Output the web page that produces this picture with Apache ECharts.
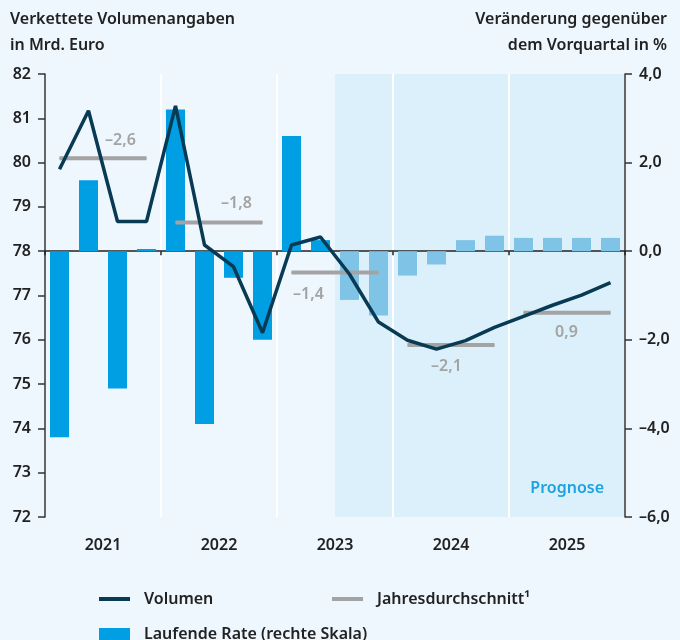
<!DOCTYPE html>
<html>
<head>
<meta charset="utf-8">
<script src="https://cdn.jsdelivr.net/npm/echarts@6/dist/echarts.min.js"></script>
<style>
html,body{margin:0;padding:0;background:#eef6fe;}
#chart{width:680px;height:640px;}
</style>
</head>
<body>
<div id="chart"></div>
<script>
// ---- data ----
const quarters = ['2021 Q1','2021 Q2','2021 Q3','2021 Q4','2022 Q1','2022 Q2','2022 Q3','2022 Q4','2023 Q1','2023 Q2','2023 Q3','2023 Q4','2024 Q1','2024 Q2','2024 Q3','2024 Q4','2025 Q1','2025 Q2','2025 Q3','2025 Q4'];
const years = ['2021','2022','2023','2024','2025'];
const volume = [79.85, 81.17, 78.67, 78.67, 81.28, 78.14, 77.65, 76.16, 78.14, 78.32, 77.48, 76.40, 75.99, 75.79, 75.98, 76.28, 76.53, 76.78, 77.01, 77.29];
const rate = [-4.2, 1.6, -3.1, 0.05, 3.2, -3.9, -0.6, -2.0, 2.6, 0.25, -1.1, -1.45, -0.55, -0.3, 0.25, 0.35, 0.3, 0.3, 0.3, 0.3];
const yearAvgLevel = [80.1, 78.65, 77.52, 75.88, 76.61];
const yearGrowth = [-2.6, -1.8, -1.4, -2.1, 0.9];
const forecastStart = 10; // first forecast quarter index
const leftTicks = {min: 72, max: 82, interval: 1};
const rightTicks = {min: -6, max: 4, interval: 2};
const leftTitle = 'Verkettete Volumenangaben\nin Mrd. Euro';
const rightTitle = 'Ver\u00e4nderung gegen\u00fcber\ndem Vorquartal in %';

// ---- styling ----
const FONT = 'Noto Sans';
const TXT = '#222222';
const BAR = '#009fe3';
const BAR_FC = '#7fc3e6';
const LINE = '#083a54';
const GRAY = '#a3a3a3';

function fmtDe(v, d) {
  const s = Math.abs(v).toFixed(d).replace('.', ',');
  return (v < 0 ? '\u2013' : '') + s;
}

// label placement per year: [quarter-in-year index, position, offsetX, offsetY]
const avgLabelPos = [
  [2, 'top', 3, -4],
  [2, 'top', 3, -5],
  [0, 'bottom', 17, 8],
  [1, 'bottom', 10, 8],
  [1, 'bottom', 14, 6]
];

const avgSeries = years.map((y, i) => {
  const data = quarters.map((q, k) => {
    if (Math.floor(k / 4) !== i) return '-';
    const lp = avgLabelPos[i];
    if (k % 4 === lp[0]) {
      return {
        value: yearAvgLevel[i],
        label: {
          show: true, position: lp[1], offset: [lp[2], lp[3]],
          formatter: fmtDe(yearGrowth[i], 1),
          color: GRAY, fontFamily: FONT, fontSize: 16, fontWeight: 600
        }
      };
    }
    return yearAvgLevel[i];
  });
  return {
    name: 'Jahresdurchschnitt\u00b9', type: 'line', xAxisIndex: 0, yAxisIndex: 0,
    data: data, connectNulls: false, showSymbol: true, symbol: 'circle', symbolSize: 1,
    itemStyle: {color: GRAY}, lineStyle: {color: GRAY, width: 4},
    silent: true, emphasis: {disabled: true}, z: 3, animation: false
  };
});

const barData = rate.map((v, i) => ({
  value: v,
  itemStyle: {color: i >= forecastStart ? BAR_FC : BAR}
}));

const titleFont = '600 16px "' + FONT + '"';
const chart = echarts.init(document.getElementById('chart'), null, {renderer: 'canvas'});
const option = {
  backgroundColor: '#eef6fe',
  animation: false,
  textStyle: {fontFamily: FONT},
  graphic: [
    {type: 'text', x: 10, y: 6, z: 10, silent: true,
     style: {text: leftTitle, font: titleFont, fill: TXT, lineHeight: 26, align: 'left', verticalAlign: 'top'}},
    {type: 'text', x: 667, y: 6, z: 10, silent: true,
     style: {text: rightTitle, font: titleFont, fill: TXT, lineHeight: 26, align: 'right', verticalAlign: 'top'}}
  ],
  grid: {left: 45, right: 55, top: 74, bottom: 123, containLabel: false},
  legend: [
    {data: ['Volumen'], left: 94, top: 586, icon: 'rect', itemWidth: 31, itemHeight: 4, selectedMode: false,
     textStyle: {fontFamily: FONT, fontSize: 16, fontWeight: 600, color: TXT, padding: [0, 0, 0, 9]}},
    {data: ['Jahresdurchschnitt\u00b9'], left: 327, top: 586, icon: 'rect', itemWidth: 31, itemHeight: 4, selectedMode: false,
     textStyle: {fontFamily: FONT, fontSize: 16, fontWeight: 600, color: TXT, padding: [0, 0, 0, 9]}},
    {data: ['Laufende Rate (rechte Skala)'], left: 94, top: 621, icon: 'rect', itemWidth: 31, itemHeight: 12, selectedMode: false,
     textStyle: {fontFamily: FONT, fontSize: 16, fontWeight: 600, color: TXT, padding: [0, 0, 0, 9]}}
  ],
  xAxis: [
    {type: 'category', data: quarters, boundaryGap: true,
     axisLine: {show: true, onZero: true, onZeroAxisIndex: 1, lineStyle: {color: TXT, width: 1.5}},
     axisTick: {show: true, interval: 3, length: 4, lineStyle: {color: TXT, width: 1.5}},
     axisLabel: {show: false}, splitLine: {show: false}},
    {type: 'category', data: years, boundaryGap: true, position: 'bottom',
     axisLine: {show: false, onZero: false}, axisTick: {show: false},
     axisLabel: {margin: 20, fontFamily: FONT, fontSize: 16, fontWeight: 600, color: TXT},
     splitLine: {show: true, lineStyle: {color: '#ffffff', width: 2}}},
    {type: 'value', min: 0, max: quarters.length, show: false}
  ],
  yAxis: [
    {type: 'value', position: 'left', min: leftTicks.min, max: leftTicks.max, interval: leftTicks.interval,
     axisLine: {show: true, onZero: false, lineStyle: {color: '#333', width: 1.5}},
     axisTick: {show: true, length: 7, lineStyle: {color: '#333', width: 1.5}},
     axisLabel: {margin: 14, fontFamily: FONT, fontSize: 16, fontWeight: 600, color: TXT},
     splitLine: {show: false}},
    {type: 'value', position: 'right', min: rightTicks.min, max: rightTicks.max, interval: rightTicks.interval,
     axisLine: {show: true, onZero: false, lineStyle: {color: '#333', width: 1.5}},
     axisTick: {show: true, length: 7, lineStyle: {color: '#333', width: 1.5}},
     axisLabel: {margin: 14, fontFamily: FONT, fontSize: 16, fontWeight: 600, color: TXT,
       formatter: v => fmtDe(v, 1)},
     splitLine: {show: false}}
  ],
  series: [
    {name: 'forecast', type: 'line', xAxisIndex: 2, yAxisIndex: 0, data: [[forecastStart, leftTicks.min]],
     showSymbol: false, lineStyle: {width: 0}, silent: true, z: -1, zlevel: 0,
     markArea: {silent: true, z: -1, itemStyle: {color: '#dcf0fb'},
       label: {show: true, position: 'insideBottomRight', offset: [-16, -16], formatter: 'Prognose',
               color: '#1ba3e2', fontFamily: FONT, fontSize: 16, fontWeight: 600},
       data: [[{xAxis: forecastStart}, {xAxis: quarters.length}]]}},
    {name: 'Laufende Rate (rechte Skala)', type: 'bar', xAxisIndex: 0, yAxisIndex: 1, data: barData,
     barWidth: 19, itemStyle: {color: BAR}, silent: true, z: 2},
    ...avgSeries,
    {name: 'Volumen', type: 'line', xAxisIndex: 0, yAxisIndex: 0, data: volume,
     symbol: 'none', itemStyle: {color: LINE}, lineStyle: {color: LINE, width: 3.5}, silent: true, z: 4}
  ]
};
chart.setOption(option);
</script>
</body>
</html>
